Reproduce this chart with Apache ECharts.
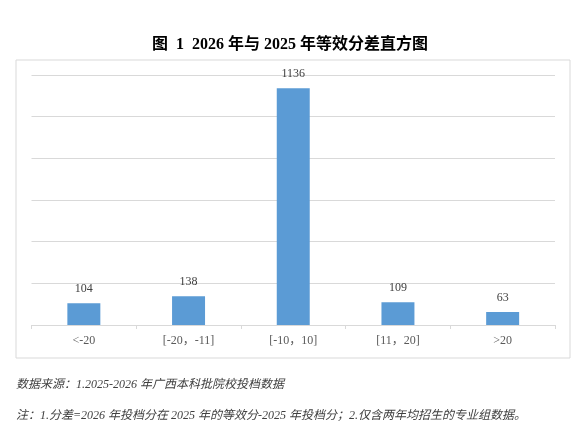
<!DOCTYPE html>
<html>
<head>
<meta charset="utf-8">
<script src="https://cdn.jsdelivr.net/npm/echarts@6/dist/echarts.min.js"></script>
<style>
html,body{margin:0;padding:0;background:#fff;}
#chart{width:580px;height:436px;}
</style>
</head>
<body>
<div id="chart"></div>
<script>
var titleText = '图  1  2026 年与 2025 年等效分差直方图';
var categories = ['<-20', '[-20，-11]', '[-10，10]', '[11，20]', '>20'];
var values = [104, 138, 1136, 109, 63];
var notes = [
  '数据来源：1.2025-2026 年广西本科批院校投档数据',
  '注：1.分差=2026 年投档分在 2025 年的等效分-2025 年投档分；2.仅含两年均招生的专业组数据。'
];

var serif = '"Liberation Serif", "Times New Roman", "Noto Sans CJK SC", serif';
var chart = echarts.init(document.getElementById('chart'), null, {renderer: 'canvas'});
chart.setOption({
  animation: false,
  backgroundColor: '#ffffff',
  title: {
    text: titleText,
    left: 'center',
    top: 32,
    textStyle: {fontFamily: serif, fontSize: 16, fontWeight: 'bold', color: '#000000'}
  },
  graphic: [
    {type: 'rect', shape: {x: 16, y: 60, width: 554, height: 298}, style: {fill: 'none', stroke: '#d9d9d9', lineWidth: 1}, z: -1},
    {type: 'text', left: 16, top: 379, style: {text: notes[0], font: 'italic 12px ' + serif, fill: '#404040'}},
    {type: 'text', left: 16, top: 410, style: {text: notes[1], font: 'italic 12px ' + serif, fill: '#404040'}}
  ],
  grid: {left: 31.5, right: 25, top: 75, bottom: 111, containLabel: false},
  xAxis: {
    type: 'category',
    data: categories,
    axisLine: {lineStyle: {color: '#d9d9d9'}},
    axisTick: {show: true, length: 4, lineStyle: {color: '#d9d9d9'}},
    axisLabel: {color: '#595959', fontFamily: serif, fontSize: 12, margin: 10}
  },
  yAxis: {
    type: 'value',
    min: 0, max: 1200, interval: 200,
    axisLabel: {show: false},
    axisLine: {show: false},
    axisTick: {show: false},
    splitLine: {lineStyle: {color: '#d9d9d9'}}
  },
  series: [{
    type: 'bar',
    data: values,
    barWidth: '31.5%',
    itemStyle: {color: '#5b9bd5'},
    label: {show: true, position: 'top', distance: 8, color: '#404040', fontFamily: serif, fontSize: 12}
  }]
});
</script>
</body>
</html>
